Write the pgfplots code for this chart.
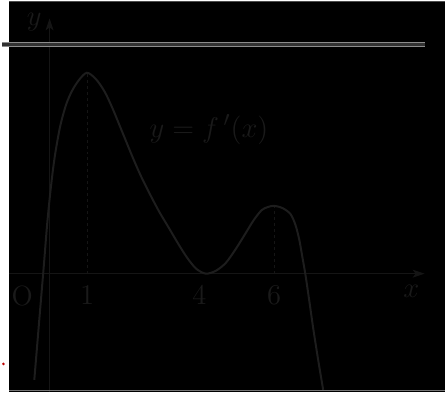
\documentclass[border=0pt]{standalone}
\usepackage{pgfplots}
\pgfplotsset{compat=1.18}
\usetikzlibrary{arrows.meta}

\definecolor{curvegray}{RGB}{29,29,29}
\definecolor{axisgray}{RGB}{21,21,21}
\definecolor{textgray}{RGB}{26,26,26}
\definecolor{rulegray}{RGB}{140,140,140}
\definecolor{rulemid}{RGB}{50,50,50}

\begin{document}
\begin{tikzpicture}
  \begin{axis}[
      scale only axis,
      width=219.5pt, height=197pt,
      xmin=-1.072, xmax=10.573,
      ymin=-3.157, ymax=7.294,
      axis lines=middle,
      clip=false,
      axis background/.style={fill=black},
      axis line style={draw=axisgray, line width=0.6pt},
      x axis line style={-{Stealth[length=6pt,width=4pt,inset=1.5pt]}, shorten >=10.5pt},
      y axis line style={-{Stealth[length=6pt,width=4pt,inset=1.5pt]}, shorten >=9pt},
      xtick={1,4,6}, ytick=\empty,
      major tick length=0pt,
      xticklabel style={font=\fontsize{14}{16}\selectfont, text=textgray,
        inner sep=0pt, anchor=north, yshift=-6pt},
    ]
    % dashed guides at the two maxima
    \addplot[draw=axisgray, line width=0.4pt, dash pattern=on 1.5pt off 1.5pt]
      coordinates {(1,0) (1,5.37)};
    \addplot[draw=axisgray, line width=0.4pt, dash pattern=on 1.5pt off 1.5pt]
      coordinates {(6,0) (6,1.81)};

    % y = f'(x)
    \addplot[draw=curvegray, line width=1pt, smooth] coordinates {
      (-0.408,-2.838) (-0.276,-1.247) (-0.156,0.186) (-0.064,1.326)
      (0.029,2.255) (0.135,3.103) (0.281,3.926) (0.440,4.509)
      (0.599,4.881) (0.785,5.172) (0.997,5.366)
      (1.236,5.199) (1.475,4.854) (1.687,4.403) (1.873,3.952)
      (2.058,3.501) (2.244,3.050) (2.456,2.573) (2.695,2.095)
      (2.934,1.645) (3.172,1.247) (3.438,0.796) (3.676,0.424)
      (3.915,0.133) (4.175,0.000) (4.446,0.080) (4.711,0.292)
      (4.976,0.663) (5.241,1.088) (5.454,1.432) (5.666,1.698)
      (5.825,1.777) (5.990,1.812) (6.223,1.751) (6.435,1.592)
      (6.568,1.300) (6.671,0.902) (6.751,0.451) (6.830,0.000)
      (6.936,-0.716) (7.042,-1.459) (7.175,-2.308) (7.308,-3.103)
    };

    \node[text=textgray, font=\fontsize{14}{16}\selectfont, inner sep=0pt, anchor=north]
      at (axis cs:-0.73,0) [yshift=-6pt] {O};
    \node[text=textgray, font=\fontsize{14}{16}\selectfont, inner sep=0pt, anchor=north]
      at (axis cs:9.66,0) [yshift=-5.5pt] {$x$};
    \node[text=textgray, font=\fontsize{14}{16}\selectfont, inner sep=0pt]
      at (axis cs:-0.41,6.71) {$y$};
    \node[text=textgray, font=\fontsize{15}{17}\selectfont, inner sep=0pt]
      at (axis cs:4.26,3.85) {$y = f\,'(x)$};

    % frame artefacts of the scan
    \fill[white] ([xshift=-3.5pt]rel axis cs:0,0) rectangle (rel axis cs:0,1);
    \draw[draw=rulegray!55!black, line width=0.5pt]
      ([yshift=-0.5pt]rel axis cs:0,1) -- ([yshift=-0.5pt]rel axis cs:1,1);
    \draw[draw=rulegray!120, line width=0.5pt]
      ([yshift=0.6pt]rel axis cs:0,0) -- ([yshift=0.6pt]rel axis cs:1,0);
    \draw[draw=rulegray, line width=0.5pt, double=rulemid, double distance=1.5pt]
      ([xshift=-3.5pt]axis cs:-1.072,6.13) -- (axis cs:10.04,6.13);
    \fill[red!75!black] ([xshift=-3pt]axis cs:-1.072,-2.41) circle (0.7pt);
  \end{axis}
\end{tikzpicture}
\end{document}
